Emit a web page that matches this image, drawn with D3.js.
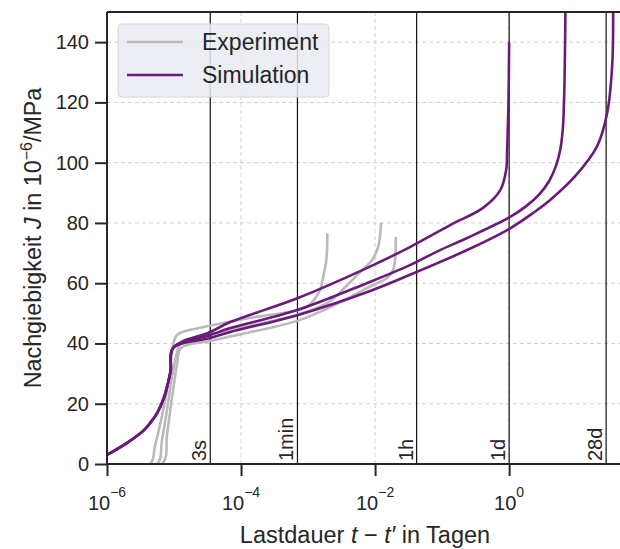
<!DOCTYPE html>
<html>
<head>
<meta charset="utf-8">
<script src="https://cdn.jsdelivr.net/npm/d3@7"></script>
<style>
  body { margin: 0; background: #fff; }
  svg { font-family: "Liberation Sans", Arial, sans-serif; }
</style>
</head>
<body>
<div id="plot"></div>
<script>
// --- data (log10 of load duration in days, compliance J in 1e-6/MPa) ---
const simSharedLogT = [-6, -5.7, -5.46, -5.36, -5.25, -5.15, -5.1, -5.05, -5.015];
const simSharedJ    = [3, 7, 11, 13.5, 17, 22, 26, 31, 38.5];

const simUpperLogT = [-4.46, -4.16, -3.16, -2.125, -1.48, -0.88, -0.39, -0.13, -0.045, -0.03, -0.01, 0];
const simUpperJ    = [43.8, 47.1, 55, 65, 72, 79.3, 85, 91, 97.5, 104, 120, 140];

const simMiddleLogT = [-4.46, -4.16, -3.16, -2.125, -1.48, -1.03, -0.627, 0.015, 0.25, 0.45, 0.6, 0.7, 0.76, 0.8, 0.82, 0.832, 0.84];
const simMiddleJ    = [42.8, 45.1, 51.1, 60, 66, 71, 75, 82, 85.5, 89.5, 94, 99, 104, 111, 121, 135, 150];

const simLowerLogT = [-4.46, -4.16, -3.16, -2.125, -1.48, -0.627, -0.03, 0.358, 0.612, 0.985, 1.313, 1.463, 1.537, 1.552];
const simLowerJ    = [41.8, 43.8, 49.4, 57, 62.8, 71, 77.6, 83.3, 87.6, 95.5, 105.5, 116.5, 132, 150];

const exp1LogT = [-6, -5.358, -5.284, -5.209, -5.134, -5.06, -5.03, -4.955, -4.612, -4.209, -3.716, -3.269, -3.015, -2.821, -2.776, -2.731, -2.716, -2.712];
const exp1J    = [0, 0, 6, 13, 21, 30, 37, 42.8, 45.2, 47, 49, 50.5, 52.2, 57.7, 62, 67, 72, 76.6];

const exp2LogT = [-6, -5.254, -5.18, -5.104, -5.03, -4.955, -4.896, -4.463, -4.164, -3.164, -2.672, -2.478, -2.224, -2.045, -1.955, -1.925, -1.91];
const exp2J    = [0, 0, 8, 18, 29, 37, 40.5, 43, 44.5, 49.5, 54, 58, 63.7, 67.7, 72, 76, 80];

const exp3LogT = [-6, -5.179, -5.104, -5.03, -4.955, -4.896, -4.463, -4.164, -3.164, -2.672, -2.373, -2.179, -2.03, -1.821, -1.731, -1.701, -1.691];
const exp3J    = [0, 0, 10, 22, 33, 38.5, 40.8, 42.3, 47.5, 52, 55.4, 57.7, 59.4, 61.7, 64.4, 68, 75.3];

// reference durations (days) and their labels
const markerLabels = ["3s", "1min", "1h", "1d", "28d"];
const markerDays   = [3 / 86400, 1 / 1440, 1 / 24, 1, 28];

const yTicks = [0, 20, 40, 60, 80, 100, 120, 140];
const xTickExps = [-6, -4, -2, 0];

const legendLabels = ["Experiment", "Simulation"];

// --- layout ---
const W = 620, H = 549;
const margin = {left: 107, top: 12, right: -3, bottom: 85};
const innerW = W - margin.left - margin.right;
const innerH = H - margin.top - margin.bottom;

const simColor = "#6a1b7a";
const expColor = "#bababa";
const ink = "#262626";

const x = d3.scaleLog().domain([1e-6, 50]).range([0, innerW]);
const y = d3.scaleLinear().domain([0, 150]).range([innerH, 0]);

const svg = d3.select("#plot").append("svg")
  .attr("width", W).attr("height", H);

svg.append("defs").append("clipPath").attr("id", "clip")
  .append("rect").attr("width", innerW).attr("height", innerH);

const g = svg.append("g").attr("transform", `translate(${margin.left},${margin.top})`);

// grid
g.append("g").selectAll("line").data(yTicks).enter().append("line")
  .attr("x1", 0).attr("x2", innerW)
  .attr("y1", d => y(d)).attr("y2", d => y(d))
  .attr("stroke", "#cfcfcf").attr("stroke-width", 1).attr("stroke-dasharray", "4,3");
g.append("g").selectAll("line").data(xTickExps).enter().append("line")
  .attr("x1", d => x(Math.pow(10, d))).attr("x2", d => x(Math.pow(10, d)))
  .attr("y1", 0).attr("y2", innerH)
  .attr("stroke", "#cfcfcf").attr("stroke-width", 1).attr("stroke-dasharray", "4,3");

// reference duration markers
const mk = g.append("g").selectAll("g").data(markerDays).enter().append("g");
mk.append("line")
  .attr("x1", d => x(d)).attr("x2", d => x(d))
  .attr("y1", 0).attr("y2", innerH)
  .attr("stroke", "#111").attr("stroke-width", 1.2);
mk.append("text")
  .attr("transform", d => `translate(${x(d) - 4},${innerH - 3}) rotate(-90)`)
  .attr("font-size", 20).attr("fill", ink)
  .text((d, i) => markerLabels[i]);

// curves
const line = d3.line()
  .x(d => x(Math.pow(10, d[0])))
  .y(d => y(d[1]))
  .curve(d3.curveCatmullRom.alpha(0.5));

const zip = (a, b) => a.map((v, i) => [v, b[i]]);
const curves = g.append("g").attr("clip-path", "url(#clip)");

[[exp1LogT, exp1J], [exp2LogT, exp2J], [exp3LogT, exp3J]].forEach(s => {
  curves.append("path").datum(zip(s[0], s[1]))
    .attr("d", line).attr("fill", "none")
    .attr("stroke", expColor).attr("stroke-width", 2.6)
    .attr("stroke-linejoin", "round");
});

const shared = zip(simSharedLogT, simSharedJ);
[[simUpperLogT, simUpperJ], [simMiddleLogT, simMiddleJ], [simLowerLogT, simLowerJ]].forEach(s => {
  curves.append("path").datum(shared.concat(zip(s[0], s[1])))
    .attr("d", line).attr("fill", "none")
    .attr("stroke", simColor).attr("stroke-width", 2.6)
    .attr("stroke-linejoin", "round");
});

// axes frame
g.append("line").attr("x1", 0).attr("x2", 0).attr("y1", 0).attr("y2", innerH)
  .attr("stroke", ink).attr("stroke-width", 2);
g.append("line").attr("x1", 0).attr("x2", innerW).attr("y1", innerH).attr("y2", innerH)
  .attr("stroke", ink).attr("stroke-width", 2);
g.append("line").attr("x1", 0).attr("x2", innerW).attr("y1", 0).attr("y2", 0)
  .attr("stroke", ink).attr("stroke-width", 2);

// y axis
const yAxis = g.append("g").call(d3.axisLeft(y).tickValues(yTicks).tickSize(12).tickPadding(6));
yAxis.select(".domain").remove();
yAxis.selectAll(".tick line").attr("stroke", ink).attr("stroke-width", 2);
yAxis.selectAll(".tick text").attr("font-size", 20).attr("fill", ink)
  .attr("font-family", "Liberation Sans, Arial, sans-serif");

// x axis
const xAxis = g.append("g").attr("transform", `translate(0,${innerH})`)
  .call(d3.axisBottom(x).tickValues(xTickExps.map(e => Math.pow(10, e))).tickSize(12).tickFormat(""));
xAxis.select(".domain").remove();
xAxis.selectAll(".tick line").attr("stroke", ink).attr("stroke-width", 2);

const xl = g.append("g").selectAll("text").data(xTickExps).enter().append("text")
  .attr("x", d => x(Math.pow(10, d)))
  .attr("y", innerH + 46)
  .attr("text-anchor", "middle")
  .attr("font-size", 20).attr("fill", ink);
xl.append("tspan").text("10");
xl.append("tspan").attr("dy", -13).attr("font-size", 14).text(d => d < 0 ? "\u2212" + (-d) : d);

// axis titles
const xt = svg.append("text")
  .attr("x", margin.left + innerW / 2).attr("y", 543)
  .attr("text-anchor", "middle").attr("font-size", 23.5).attr("fill", ink);
xt.append("tspan").text("Lastdauer ");
xt.append("tspan").attr("font-style", "italic").text("t");
xt.append("tspan").text(" \u2212 ");
xt.append("tspan").attr("font-style", "italic").text("t\u2032");
xt.append("tspan").text(" in Tagen");

const yt = svg.append("text")
  .attr("transform", `translate(41,${margin.top + innerH / 2}) rotate(-90)`)
  .attr("text-anchor", "middle").attr("font-size", 23.3).attr("fill", ink);
yt.append("tspan").text("Nachgiebigkeit ");
yt.append("tspan").attr("font-style", "italic").text("J");
yt.append("tspan").text(" in 10");
yt.append("tspan").attr("dy", -9).attr("font-size", 16).text("\u22126");
yt.append("tspan").attr("dy", 9).text("/MPa");

// legend
const lg = g.append("g").attr("transform", "translate(11,12)");
lg.append("rect").attr("width", 211).attr("height", 73).attr("rx", 4)
  .attr("fill", "#eaeaf2").attr("fill-opacity", 0.85)
  .attr("stroke", "#d6d6de").attr("stroke-width", 1);
const li = lg.selectAll("g.item").data(legendLabels).enter().append("g")
  .attr("class", "item")
  .attr("transform", (d, i) => `translate(0,${18 + i * 33})`);
li.append("line").attr("x1", 9).attr("x2", 65)
  .attr("stroke", (d, i) => i === 0 ? expColor : simColor).attr("stroke-width", 2.6);
li.append("text").attr("x", 84).attr("y", 8)
  .attr("font-size", 23).attr("fill", ink).text(d => d);
</script>
</body>
</html>
